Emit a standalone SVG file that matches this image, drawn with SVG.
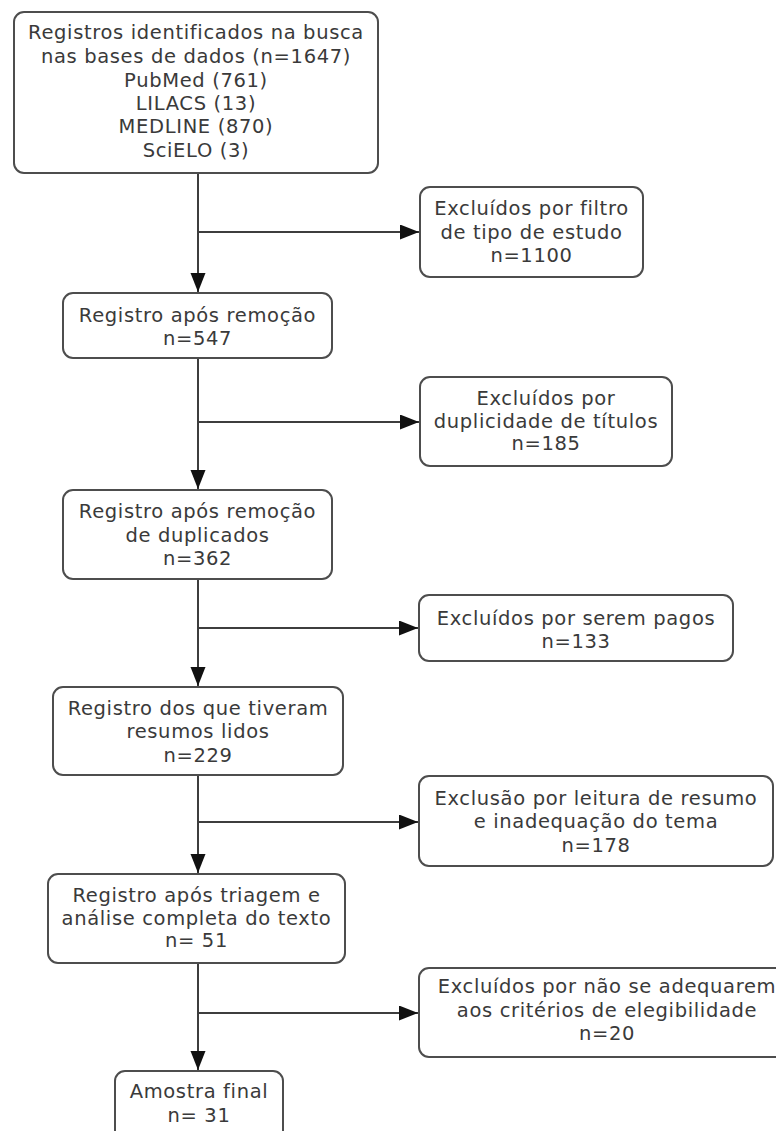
<svg xmlns="http://www.w3.org/2000/svg" width="776" height="1131" viewBox="0 0 776 1131">
<defs>
<style>
.box{fill:#fff;stroke:#4d4d4d;stroke-width:2}
.t{font-family:"DejaVu Sans","Liberation Sans",sans-serif;font-size:19.5px;letter-spacing:0.65px;fill:#3a3a3a;text-anchor:middle}
.c{fill:none;stroke:#3d3d3d;stroke-width:2}
</style>
<marker id="ah" markerUnits="userSpaceOnUse" markerWidth="20" markerHeight="16" refX="19" refY="7.5" orient="auto">
<path d="M0,0 L19,7.5 L0,15 z" fill="#111"/>
</marker>
</defs>
<rect width="776" height="1131" fill="#fff"/>
<g id="connectors">
<line class="c" x1="198" y1="173" x2="198" y2="292" marker-end="url(#ah)"/>
<line class="c" x1="198" y1="232" x2="419" y2="232" marker-end="url(#ah)"/>
<line class="c" x1="198" y1="358" x2="198" y2="489" marker-end="url(#ah)"/>
<line class="c" x1="198" y1="422" x2="419" y2="422" marker-end="url(#ah)"/>
<line class="c" x1="198" y1="579" x2="198" y2="686" marker-end="url(#ah)"/>
<line class="c" x1="198" y1="628" x2="418" y2="628" marker-end="url(#ah)"/>
<line class="c" x1="198" y1="775" x2="198" y2="873" marker-end="url(#ah)"/>
<line class="c" x1="198" y1="822" x2="418" y2="822" marker-end="url(#ah)"/>
<line class="c" x1="198" y1="963" x2="198" y2="1070" marker-end="url(#ah)"/>
<line class="c" x1="198" y1="1013" x2="418" y2="1013" marker-end="url(#ah)"/>
</g>
<g id="n1">
<rect class="box" x="14" y="12" width="364" height="161" rx="10"/>
<text class="t" x="196" y="39">Registros identificados na busca</text>
<text class="t" x="196" y="63">nas bases de dados (n=1647)</text>
<text class="t" x="196" y="87">PubMed (761)</text>
<text class="t" x="196" y="110">LILACS (13)</text>
<text class="t" x="196" y="133">MEDLINE (870)</text>
<text class="t" x="196" y="157">SciELO (3)</text>
</g>
<g id="n2">
<rect class="box" x="420" y="187" width="223" height="90" rx="10"/>
<text class="t" x="531.5" y="215">Excluídos por filtro</text>
<text class="t" x="531.5" y="239">de tipo de estudo</text>
<text class="t" x="531.5" y="262">n=1100</text>
</g>
<g id="n3">
<rect class="box" x="63" y="293" width="269" height="65" rx="10"/>
<text class="t" x="197.5" y="322">Registro após remoção</text>
<text class="t" x="197.5" y="345">n=547</text>
</g>
<g id="n4">
<rect class="box" x="420" y="377" width="252" height="89" rx="10"/>
<text class="t" x="546" y="405">Excluídos por</text>
<text class="t" x="546" y="428">duplicidade de títulos</text>
<text class="t" x="546" y="450">n=185</text>
</g>
<g id="n5">
<rect class="box" x="63" y="490" width="269" height="89" rx="10"/>
<text class="t" x="197.5" y="518">Registro após remoção</text>
<text class="t" x="197.5" y="542">de duplicados</text>
<text class="t" x="197.5" y="565">n=362</text>
</g>
<g id="n6">
<rect class="box" x="419" y="595" width="314" height="66" rx="10"/>
<text class="t" x="576" y="625">Excluídos por serem pagos</text>
<text class="t" x="576" y="648">n=133</text>
</g>
<g id="n7">
<rect class="box" x="53" y="687" width="290" height="88" rx="10"/>
<text class="t" x="198" y="715">Registro dos que tiveram</text>
<text class="t" x="198" y="738">resumos lidos</text>
<text class="t" x="198" y="762">n=229</text>
</g>
<g id="n8">
<rect class="box" x="419" y="776" width="354" height="90" rx="10"/>
<text class="t" x="596" y="805">Exclusão por leitura de resumo</text>
<text class="t" x="596" y="828">e inadequação do tema</text>
<text class="t" x="596" y="852">n=178</text>
</g>
<g id="n9">
<rect class="box" x="48" y="874" width="297" height="89" rx="10"/>
<text class="t" x="196.5" y="902">Registro após triagem e</text>
<text class="t" x="196.5" y="925">análise completa do texto</text>
<text class="t" x="196.5" y="947">n= 51</text>
</g>
<g id="n10">
<rect class="box" x="419" y="968" width="376" height="89" rx="10"/>
<text class="t" x="607" y="993">Excluídos por não se adequarem</text>
<text class="t" x="607" y="1017">aos critérios de elegibilidade</text>
<text class="t" x="607" y="1040">n=20</text>
</g>
<g id="n11">
<rect class="box" x="115" y="1071" width="168" height="70" rx="10"/>
<text class="t" x="199" y="1098">Amostra final</text>
<text class="t" x="199" y="1122">n= 31</text>
</g>
</svg>
